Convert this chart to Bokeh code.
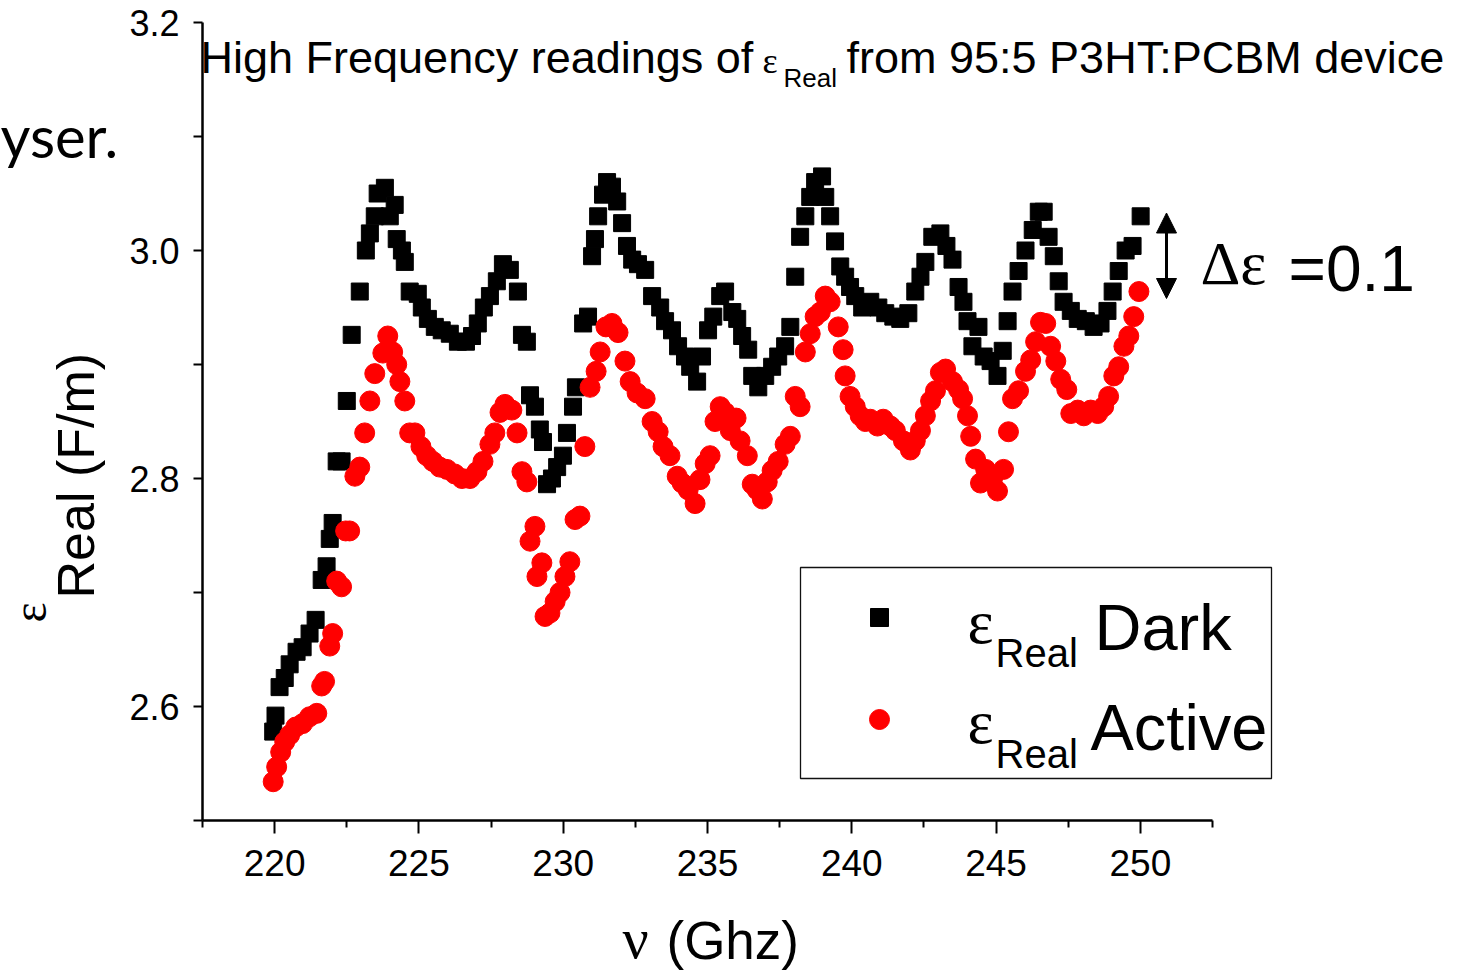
import math
from bokeh.plotting import figure
from bokeh.models import (Range1d, FixedTicker, Label, BoxAnnotation, Arrow, NormalHead,
                          ColumnDataSource)
from bokeh.embed import file_html
from bokeh.resources import INLINE

# ---------------- data ----------------
dark_freq = [219.95, 220.03, 220.17, 220.35, 220.52, 220.76, 220.97, 221.21, 221.42, 221.63,
             221.80, 221.91, 222.01, 222.15, 222.32, 222.50, 222.67, 222.95, 223.16, 223.30,
             223.47, 223.57, 223.82, 223.99, 224.16, 224.23, 224.41, 224.51, 224.68, 224.96,
             225.10, 225.31, 225.55, 225.79, 226.07, 226.35, 226.63, 226.84, 227.04, 227.25,
             227.46, 227.70, 227.91, 228.15, 228.43, 228.57, 228.74, 228.85, 229.02, 229.19,
             229.30, 229.44, 229.61, 229.79, 229.99, 230.13, 230.34, 230.44, 230.69, 230.86,
             231.00, 231.10, 231.21, 231.38, 231.52, 231.69, 231.87, 232.04, 232.21, 232.39,
             232.59, 232.84, 233.08, 233.36, 233.53, 233.77, 233.98, 234.22, 234.40, 234.64,
             234.81, 235.02, 235.20, 235.44, 235.61, 235.86, 236.03, 236.20, 236.41, 236.55,
             236.76, 237.00, 237.24, 237.45, 237.69, 237.87, 238.04, 238.21, 238.39, 238.56,
             238.73, 238.97, 239.08, 239.25, 239.42, 239.60, 239.77, 239.94, 240.12, 240.36,
             240.64, 240.92, 241.16, 241.44, 241.68, 241.96, 242.20, 242.38, 242.55, 242.79,
             243.07, 243.28, 243.49, 243.70, 243.87, 244.01, 244.18, 244.39, 244.57, 244.81,
             245.05, 245.23, 245.40, 245.57, 245.78, 246.02, 246.27, 246.48, 246.65, 246.82,
             247.00, 247.17, 247.34, 247.59, 247.83, 248.11, 248.38, 248.62, 248.86, 249.04,
             249.25, 249.49, 249.73, 250.01]
dark_eps = [2.578, 2.592, 2.617, 2.625, 2.637, 2.648, 2.652, 2.664, 2.676, 2.711,
            2.723, 2.747, 2.761, 2.815, 2.815, 2.868, 2.926, 2.964, 3.000, 3.015,
            3.030, 3.050, 3.055, 3.030, 3.040, 3.010, 3.000, 2.990, 2.964, 2.962,
            2.950, 2.940, 2.933, 2.930, 2.927, 2.920, 2.920, 2.925, 2.936, 2.950,
            2.960, 2.973, 2.988, 2.983, 2.964, 2.926, 2.920, 2.873, 2.863, 2.843,
            2.832, 2.795, 2.800, 2.810, 2.820, 2.840, 2.863, 2.880, 2.936, 2.942,
            2.995, 3.010, 3.030, 3.049, 3.060, 3.056, 3.043, 3.024, 3.004, 2.992,
            2.988, 2.983, 2.960, 2.950, 2.938, 2.930, 2.916, 2.907, 2.898, 2.885,
            2.907, 2.930, 2.942, 2.960, 2.964, 2.946, 2.940, 2.925, 2.913, 2.890,
            2.880, 2.890, 2.898, 2.907, 2.916, 2.933, 2.977, 3.012, 3.030, 3.047,
            3.060, 3.065, 3.047, 3.030, 3.008, 2.986, 2.977, 2.968, 2.960, 2.950,
            2.955, 2.950, 2.945, 2.942, 2.940, 2.945, 2.964, 2.977, 2.990, 3.012,
            3.015, 3.004, 2.992, 2.968, 2.955, 2.938, 2.916, 2.933, 2.907, 2.903,
            2.890, 2.912, 2.938, 2.964, 2.982, 3.000, 3.018, 3.034, 3.034, 3.012,
            2.995, 2.973, 2.955, 2.947, 2.940, 2.938, 2.933, 2.936, 2.947, 2.964,
            2.982, 3.000, 3.004, 3.030]

active_freq = [219.95, 220.07, 220.21, 220.35, 220.52, 220.73, 220.97, 221.21, 221.46, 221.63,
               221.73, 221.91, 222.01, 222.15, 222.32, 222.46, 222.60, 222.78, 222.95, 223.12,
               223.30, 223.47, 223.75, 223.92, 224.09, 224.23, 224.34, 224.51, 224.68, 224.86,
               225.07, 225.27, 225.48, 225.72, 225.97, 226.24, 226.49, 226.77, 227.01, 227.22,
               227.46, 227.63, 227.81, 227.98, 228.22, 228.40, 228.57, 228.74, 228.85, 229.02,
               229.09, 229.26, 229.37, 229.54, 229.72, 229.89, 230.06, 230.23, 230.41, 230.58,
               230.75, 230.93, 231.14, 231.28, 231.48, 231.69, 231.90, 232.14, 232.32, 232.56,
               232.84, 233.08, 233.29, 233.46, 233.70, 233.95, 234.12, 234.33, 234.57, 234.74,
               234.92, 235.09, 235.26, 235.44, 235.61, 235.79, 235.99, 236.13, 236.38, 236.55,
               236.72, 236.90, 237.07, 237.24, 237.45, 237.69, 237.87, 238.04, 238.21, 238.39,
               238.56, 238.73, 238.91, 239.08, 239.25, 239.53, 239.70, 239.77, 239.94, 240.12,
               240.29, 240.47, 240.64, 240.89, 241.09, 241.34, 241.51, 241.79, 242.03, 242.20,
               242.38, 242.55, 242.73, 242.90, 243.07, 243.25, 243.49, 243.70, 243.84, 244.01,
               244.12, 244.29, 244.46, 244.64, 244.88, 245.05, 245.26, 245.43, 245.57, 245.78,
               246.02, 246.20, 246.37, 246.54, 246.72, 246.89, 247.07, 247.24, 247.45, 247.59,
               247.83, 248.04, 248.28, 248.52, 248.73, 248.90, 249.08, 249.25, 249.43, 249.60,
               249.77, 249.95]
active_eps = [2.534, 2.547, 2.560, 2.569, 2.575, 2.582, 2.585, 2.591, 2.594, 2.618,
              2.622, 2.653, 2.664, 2.710, 2.705, 2.754, 2.754, 2.802, 2.810, 2.840,
              2.868, 2.892, 2.910, 2.925, 2.911, 2.900, 2.885, 2.868, 2.840, 2.840,
              2.828, 2.820, 2.815, 2.810, 2.808, 2.804, 2.800, 2.800, 2.806, 2.815,
              2.830, 2.840, 2.858, 2.865, 2.860, 2.840, 2.806, 2.797, 2.745, 2.758,
              2.714, 2.726, 2.679, 2.682, 2.692, 2.700, 2.714, 2.727, 2.764, 2.767,
              2.828, 2.880, 2.894, 2.911, 2.933, 2.936, 2.928, 2.903, 2.885, 2.875,
              2.870, 2.850, 2.841, 2.828, 2.820, 2.802, 2.796, 2.790, 2.778, 2.799,
              2.813, 2.820, 2.850, 2.863, 2.858, 2.842, 2.853, 2.833, 2.820, 2.795,
              2.790, 2.782, 2.797, 2.807, 2.815, 2.830, 2.837, 2.872, 2.863, 2.911,
              2.927, 2.942, 2.946, 2.960, 2.955, 2.933, 2.913, 2.890, 2.872, 2.863,
              2.855, 2.850, 2.852, 2.846, 2.852, 2.846, 2.842, 2.833, 2.825, 2.833,
              2.842, 2.855, 2.868, 2.877, 2.893, 2.896, 2.885, 2.878, 2.870, 2.855,
              2.837, 2.817, 2.796, 2.808, 2.800, 2.789, 2.808, 2.841, 2.870, 2.877,
              2.894, 2.904, 2.920, 2.937, 2.936, 2.916, 2.903, 2.887, 2.878, 2.857,
              2.860, 2.855, 2.860, 2.857, 2.863, 2.872, 2.890, 2.898, 2.916, 2.925,
              2.942, 2.964]

x_major_ticks = [220, 225, 230, 235, 240, 245, 250]
x_minor_ticks = [217.5, 222.5, 227.5, 232.5, 237.5, 242.5, 247.5, 252.5]
y_major_ticks = [2.6, 2.8, 3.0, 3.2]
y_minor_ticks = [2.5, 2.7, 2.9, 3.1]
y_tick_labels = {2.6: "2.6", 2.8: "2.8", 3.0: "3.0", 3.2: "3.2"}

delta_eps = 0.1

# ---------------- layout helpers ----------------
W, H = 1473, 971
LEFT, FRAME_W, TOP, FRAME_H = 202, 1010, 22, 798   # the visible axes box, in pixels
X0, X1, Y0, Y1 = 217.5, 252.5, 2.5, 3.2           # the visible axes extent, in data units


def X(px):
    return X0 + (px - LEFT) / FRAME_W * (X1 - X0)


def Y(py):
    return Y1 - (py - TOP) / FRAME_H * (Y1 - Y0)


SANS = "Liberation Sans"
SERIF = "Liberation Serif"

# the plotting frame covers the whole page; the axes are pinned at the box edges
p = figure(width=W, height=H, output_backend="svg", toolbar_location=None,
           x_range=Range1d(X(0), X(W)), y_range=Range1d(Y(H), Y(0)),
           min_border_left=0, min_border_right=0, min_border_top=0, min_border_bottom=0)
p.outline_line_color = None
p.grid.visible = False
p.background_fill_color = "white"
p.border_fill_color = "white"

xa = p.xaxis[0]
ya = p.yaxis[0]
xa.fixed_location = Y0
ya.fixed_location = X0
xa.bounds = (X0, X1)
ya.bounds = (Y0, Y1)
xa.ticker = FixedTicker(ticks=x_major_ticks, minor_ticks=x_minor_ticks)
ya.ticker = FixedTicker(ticks=y_major_ticks, minor_ticks=y_minor_ticks)
ya.major_label_overrides = y_tick_labels
for ax in (xa, ya):
    ax.axis_line_color = "black"
    ax.axis_line_width = 2.5
    ax.major_tick_line_color = "black"
    ax.minor_tick_line_color = "black"
    ax.major_tick_line_width = 2
    ax.minor_tick_line_width = 2
    ax.major_tick_in = 0
    ax.minor_tick_in = 0
    ax.major_label_text_font = SANS
    ax.major_label_text_color = "black"
xa.major_label_text_font_size = "37px"
ya.major_label_text_font_size = "36px"
xa.major_tick_out = 13
xa.minor_tick_out = 7
xa.major_label_standoff = 16
ya.major_tick_out = 9
ya.minor_tick_out = 9
ya.major_label_standoff = 14

# data
src_dark = ColumnDataSource(dict(x=dark_freq, y=dark_eps))
src_act = ColumnDataSource(dict(x=active_freq, y=active_eps))
p.scatter("x", "y", source=src_dark, marker="square", size=17, fill_color="black", line_color="black")
p.scatter("x", "y", source=src_act, marker="circle", size=20, fill_color="red", line_color="red")

SHIFT = 0.33  # baseline correction, in em


def lab(px, py, text, size, font=SANS, align="left", angle=0.0):
    if angle:
        px = px - SHIFT * size
    else:
        py = py - SHIFT * size
    p.add_layout(Label(x=X(px), y=Y(py), text=text, text_font=font, text_font_size=f"{size}px",
                       text_align=align, text_baseline="alphabetic", text_color="black",
                       angle=angle))


# title
lab(200, 72, "High Frequency readings of", 45)
lab(762, 72, "ε", 36, SERIF)
lab(783, 86, "Real", 26)
lab(846, 72, "from 95:5 P3HT:PCBM device", 45)

# fragment at top-left
lab(0, 154, "yser.", 58, "Lato")

# axis titles
lab(622, 957, "ν", 58, SERIF)
lab(666, 957, "(Ghz)", 53)
lab(45, 622, "ε", 48, SERIF, angle=math.pi / 2)
lab(93, 598, "Real (F/m)", 52, angle=math.pi / 2)

# delta annotation
arrow_x = 1166
p.add_layout(Arrow(start=NormalHead(size=20, fill_color="black", line_color="black"),
                   end=NormalHead(size=20, fill_color="black", line_color="black"),
                   x_start=X(arrow_x), y_start=Y(298), x_end=X(arrow_x), y_end=Y(298) + delta_eps * 0.75,
                   line_width=3, line_color="black"))
lab(1200, 283, "Δε", 62, SERIF)
lab(1288, 290, f"={delta_eps}", 64)

# legend
p.add_layout(BoxAnnotation(left=X(800), right=X(1271), top=Y(567), bottom=Y(778),
                           fill_color="white", fill_alpha=1.0, line_color="#111111",
                           line_alpha=1.0, line_width=1.3, level="annotation"))
key_src = ColumnDataSource(dict(x=[X(879), X(879)], y=[Y(617), Y(719)],
                                m=["square", "circle"], c=["black", "red"], s=[18, 20]))
p.scatter("x", "y", source=key_src, marker="m", size="s", fill_color="c", line_color="c",
          level="overlay")
lab(967, 642, "ε", 62, SERIF)
lab(995, 666, "Real", 40)
lab(1094, 648, "Dark", 65)
lab(967, 742, "ε", 62, SERIF)
lab(995, 767, "Real", 40)
lab(1090, 748, "Active", 65)

open("out.html", "w").write(file_html(p, INLINE))
